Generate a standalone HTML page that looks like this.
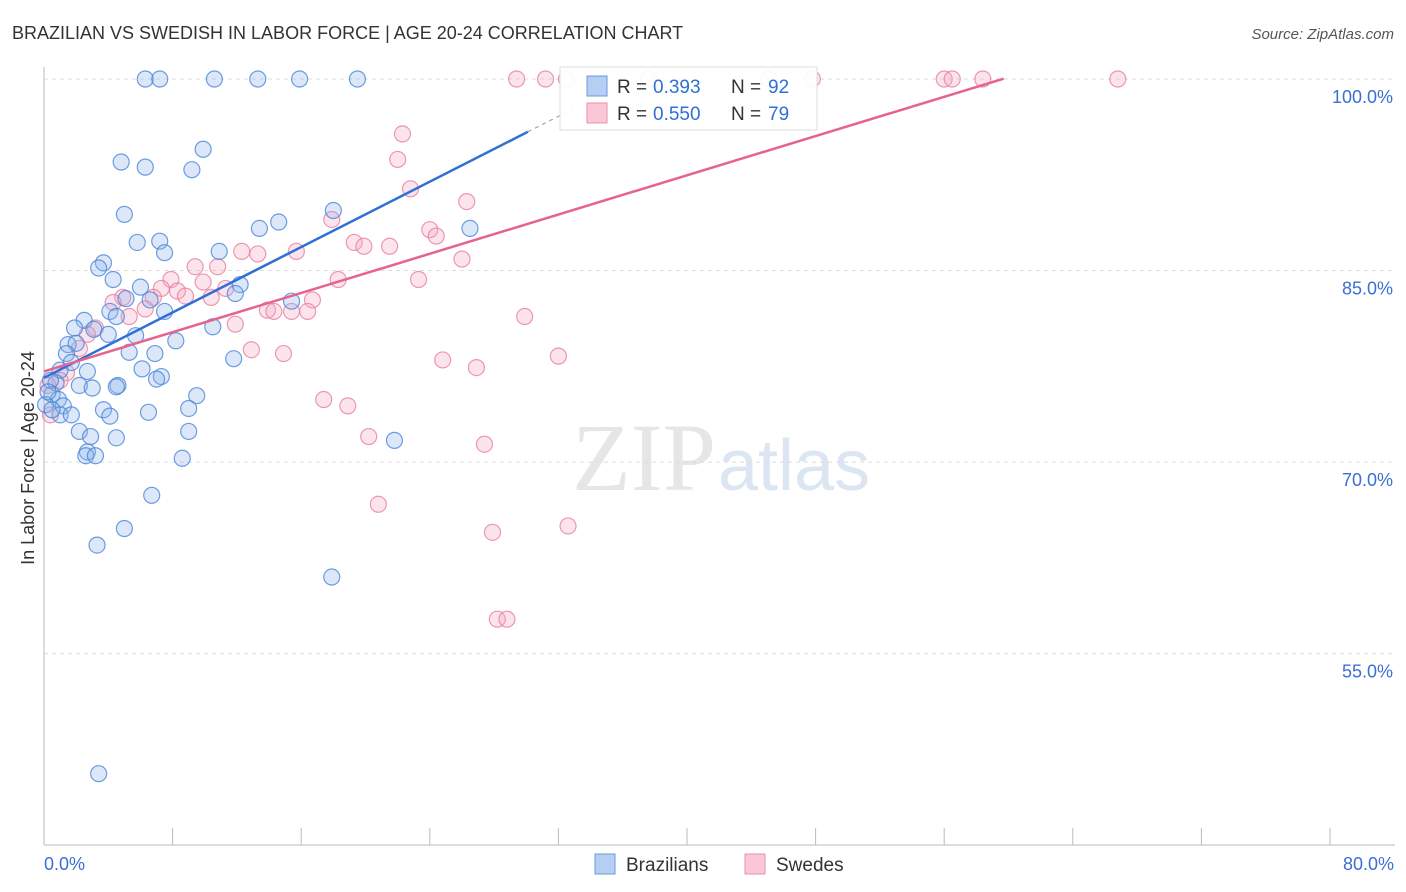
<!DOCTYPE html>
<html><head><meta charset="utf-8">
<style>
body{margin:0;background:#fff;font-family:"Liberation Sans",sans-serif;}
svg{display:block}
</style></head>
<body>
<svg id="chart" width="1406" height="892">
<text x="12" y="39" font-size="18" fill="#333">BRAZILIAN VS SWEDISH IN LABOR FORCE | AGE 20-24 CORRELATION CHART</text>
<text x="1394" y="39" font-size="15" fill="#555" font-style="italic" text-anchor="end">Source: ZipAtlas.com</text>
<text x="716" y="490" font-size="96" fill="#e6e6e6" font-family="Liberation Serif,serif" text-anchor="end">ZIP</text>
<text x="718" y="490" font-size="72" fill="#dce6f3" text-anchor="start">atlas</text>
<text transform="translate(34,458) rotate(-90)" font-size="18" fill="#333" text-anchor="middle">In Labor Force | Age 20-24</text>
<g id="grid"></g><g id="marks"></g>
</svg>
<script>
const xTicks=[0,8,16,24,32,40,48,56,64,72,80];
const yTicks=[100,85,70,55];
const yTickLabels=["100.0%","85.0%","70.0%","55.0%"];
const xLabels=["0.0%","80.0%"];
const bx=[6.3,7.2,10.6,13.3,15.9,19.5,4.8,6.3,9.9,9.2,5.0,14.6,18.0,13.4,26.5,5.8,7.2,7.5,10.9,3.7,3.4,4.3,6.0,12.2,11.9,6.6,15.4,5.1,4.1,4.5,7.5,2.5,1.9,3.1,4.0,5.7,10.5,8.2,1.5,2.0,1.4,5.3,6.9,11.8,1.7,1.0,2.7,6.1,7.3,7.0,0.75,2.2,3.0,4.6,4.5,0.5,0.9,9.5,0.1,1.2,3.7,4.1,6.5,9.0,1.0,1.7,2.2,2.9,4.5,9.0,21.8,2.7,2.6,3.2,8.6,6.7,5.0,3.3,17.9,3.4,0.4,0.25,0.5];
const by=[100,100,100,100,100,100,93.5,93.1,94.5,92.9,89.4,88.8,89.7,88.3,88.3,87.2,87.3,86.4,86.5,85.6,85.2,84.3,83.7,83.9,83.2,82.7,82.6,82.8,81.8,81.4,81.8,81.1,80.5,80.4,80.0,79.9,80.6,79.5,79.2,79.3,78.5,78.6,78.5,78.1,77.8,77.2,77.1,77.3,76.7,76.5,76.2,76.0,75.8,76.0,75.9,75.3,74.9,75.2,74.5,74.4,74.1,73.6,73.9,74.2,73.7,73.7,72.4,72.0,71.9,72.4,71.7,70.8,70.5,70.5,70.3,67.4,64.8,63.5,61.0,45.6,76.4,75.5,74.1];
const sx=[29.4,31.2,32.5,37.6,45.1,47.8,56.0,56.5,58.4,66.8,22.3,22.0,22.8,26.3,17.9,24.0,24.4,19.3,19.9,21.5,15.7,12.3,13.3,26.0,9.4,10.8,7.9,23.3,18.3,9.9,7.3,8.3,11.3,8.8,10.4,4.9,6.8,4.3,16.7,6.3,13.9,14.3,15.4,16.4,5.3,29.9,11.9,3.2,2.7,2.2,12.9,14.9,32.0,24.8,26.9,1.4,1.0,0.25,17.4,18.9,20.2,27.4,20.8,32.6,27.9,28.2,28.8,0.4];
const sy=[100,100,100,100,100,100,100,100,100,100,95.7,93.7,91.4,90.4,89.0,88.2,87.7,87.2,86.9,86.9,86.5,86.5,86.3,85.9,85.3,85.3,84.3,84.3,84.3,84.1,83.6,83.4,83.6,83.0,82.9,82.9,82.9,82.5,82.7,82.0,81.9,81.8,81.8,81.8,81.4,81.4,80.8,80.5,80.0,78.9,78.8,78.5,78.3,78.0,77.4,77.0,76.4,76.0,74.9,74.4,72.0,71.4,66.7,65.0,64.5,57.7,57.7,73.7];
const blueTrend=[76.6,0.64,30.1,33.4];
const pinkTrend=[77.1,0.384,59.7];
const X=v=>44+v*16.075, Y=v=>79+(100-v)*12.77;
const NS="http://www.w3.org/2000/svg";
function mk(p,t,a){const e=document.createElementNS(NS,t);for(const k in a)e.setAttribute(k,a[k]);p.appendChild(e);return e;}
const g=document.getElementById('grid'), m=document.getElementById('marks');
yTicks.forEach((v,i)=>{
 const l=mk(g,'line',{x1:44,x2:1395,y1:Y(v),y2:Y(v),stroke:'#dcdcdc','stroke-dasharray':'4,4'});
 
 
 const t=mk(g,'text',{x:1393,y:Y(v)+24,'font-size':18,fill:'#3b6fd4','text-anchor':'end'});t.textContent=yTickLabels[i];
 
 
});
const ax=mk(g,'line',{x1:44,x2:44,y1:67,y2:845,stroke:'#bbb'});


const bx2=mk(g,'line',{x1:44,x2:1395,y1:845,y2:845,stroke:'#bbb'});


xTicks.forEach(v=>{const l=mk(g,'line',{x1:X(v),x2:X(v),y1:828,y2:845,stroke:'#bbb'});
 
 });
[[0,'start',44],[80,'end',1394]].forEach((d,i)=>{const t=mk(g,'text',{x:d[2],y:870,'font-size':18,fill:'#3b6fd4','text-anchor':d[1]});t.textContent=xLabels[i];
 
 });
function dots(xs,ys,fill,stroke,name){xs.forEach((x,i)=>{const c=mk(m,'circle',{cx:X(x),cy:Y(ys[i]),r:8,fill:fill,'fill-opacity':0.3,stroke:stroke,'stroke-width':1.2,'stroke-opacity':0.8});
 
 });}
dots(sx,sy,'#f4a6bf','#e8809f','swedes-point');
dots(bx,by,'#8ab4ec','#4a86d8','brazilians-point');
let l=mk(m,'line',{x1:X(0),y1:Y(blueTrend[0]),x2:X(blueTrend[2]),y2:Y(blueTrend[0]+blueTrend[1]*blueTrend[2]),stroke:'#2f6fd6','stroke-width':2.5});


l=mk(m,'line',{x1:X(blueTrend[2]),y1:Y(blueTrend[0]+blueTrend[1]*blueTrend[2]),x2:X(blueTrend[3]),y2:Y(blueTrend[0]+blueTrend[1]*blueTrend[3]),stroke:'#9ab','stroke-width':1.2,'stroke-dasharray':'4,4'});


l=mk(m,'line',{x1:X(0),y1:Y(pinkTrend[0]),x2:X(pinkTrend[2]),y2:Y(pinkTrend[0]+pinkTrend[1]*pinkTrend[2]),stroke:'#e5638d','stroke-width':2.5});


</script>
<svg style="position:absolute;left:0;top:0" width="1406" height="892">
<g>
<rect x="560" y="67" width="257" height="63" fill="#fff" fill-opacity="0.92" stroke="#ddd"/>
<rect x="587" y="76" width="20" height="20" fill="#b5cff3" stroke="#6b9ae0"/>
<text x="617" y="93" font-size="19" fill="#333">R =</text>
<text x="653" y="93" font-size="19" fill="#2f6fd6">0.393</text>
<text x="731" y="93" font-size="19" fill="#333">N =</text>
<text x="768" y="93" font-size="19" fill="#2f6fd6">92</text>
<rect x="587" y="103" width="20" height="20" fill="#f9c7d6" stroke="#ec92ae"/>
<text x="617" y="120" font-size="19" fill="#333">R =</text>
<text x="653" y="120" font-size="19" fill="#2f6fd6">0.550</text>
<text x="731" y="120" font-size="19" fill="#333">N =</text>
<text x="768" y="120" font-size="19" fill="#2f6fd6">79</text>
</g>
<g>
<rect x="595" y="854" width="20" height="20" fill="#b5cff3" stroke="#6b9ae0"/>
<text x="626" y="871" font-size="19" fill="#333">Brazilians</text></g>
<g>
<rect x="745" y="854" width="20" height="20" fill="#f9c7d6" stroke="#ec92ae"/>
<text x="776" y="871" font-size="19" fill="#333">Swedes</text></g>
</svg>
</body></html>
